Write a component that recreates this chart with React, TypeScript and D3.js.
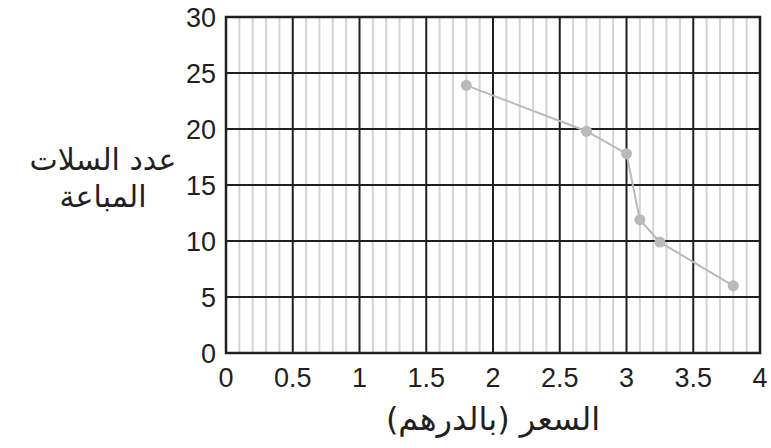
import React, { useRef, useEffect } from 'react';
import * as d3 from 'd3';

const prices = [1.8, 2.7, 3.0, 3.1, 3.25, 3.8];
const baskets = [23.9, 19.8, 17.8, 11.9, 9.9, 6];
const xTicks = [0, 0.5, 1, 1.5, 2, 2.5, 3, 3.5, 4];
const xTickLabels = ['0', '0.5', '1', '1.5', '2', '2.5', '3', '3.5', '4'];
const yTicks = [0, 5, 10, 15, 20, 25, 30];
const xTitle = 'السعر (بالدرهم)';
const yTitleLines = ['عدد السلات', 'المباعة'];

const width = 771;
const height = 448;
const margin = { top: 17, right: 11, bottom: 95, left: 226 };

const App: React.FC = () => {
  const svgRef = useRef<SVGSVGElement>(null);

  useEffect(() => {
    const svg = d3.select(svgRef.current);
    svg.selectAll('*').remove();

    const innerWidth = width - margin.left - margin.right;
    const innerHeight = height - margin.top - margin.bottom;
    const g = svg.append('g').attr('transform', `translate(${margin.left}, ${margin.top})`);

    const x = d3.scaleLinear().domain([0, 4]).range([0, innerWidth]);
    const y = d3.scaleLinear().domain([0, 30]).range([innerHeight, 0]);

    // minor vertical grid every 0.1
    const minor = d3.range(0, 41).map(i => i / 10).filter(v => Math.round(v * 10) % 5 !== 0);
    g.selectAll('.minor')
      .data(minor)
      .enter()
      .append('line')
      .attr('x1', d => x(d))
      .attr('x2', d => x(d))
      .attr('y1', 0)
      .attr('y2', innerHeight)
      .attr('stroke', '#d4d4d4')
      .attr('stroke-width', 2);

    // major grid
    g.selectAll('.major-x')
      .data(xTicks)
      .enter()
      .append('line')
      .attr('x1', d => x(d))
      .attr('x2', d => x(d))
      .attr('y1', 0)
      .attr('y2', innerHeight)
      .attr('stroke', '#231f20')
      .attr('stroke-width', 2);

    g.selectAll('.major-y')
      .data(yTicks)
      .enter()
      .append('line')
      .attr('x1', 0)
      .attr('x2', innerWidth)
      .attr('y1', d => y(d))
      .attr('y2', d => y(d))
      .attr('stroke', '#231f20')
      .attr('stroke-width', 2);

    g.append('rect')
      .attr('width', innerWidth)
      .attr('height', innerHeight)
      .attr('fill', 'none')
      .attr('stroke', '#231f20')
      .attr('stroke-width', 2.5);

    // tick labels
    g.selectAll('.xlab')
      .data(xTicks)
      .enter()
      .append('text')
      .attr('x', d => x(d))
      .attr('y', innerHeight + 34)
      .attr('text-anchor', 'middle')
      .attr('fill', '#231f20')
      .style('font-family', '"Liberation Sans", Arial, sans-serif')
      .style('font-size', '27px')
      .text((_, i) => xTickLabels[i]);

    g.selectAll('.ylab')
      .data(yTicks)
      .enter()
      .append('text')
      .attr('x', -10)
      .attr('y', d => y(d) + 10)
      .attr('text-anchor', 'end')
      .attr('fill', '#231f20')
      .style('font-family', '"Liberation Sans", Arial, sans-serif')
      .style('font-size', '27px')
      .text(d => String(d));

    // data line and points
    const pts = prices.map((p, i) => [p, baskets[i]] as [number, number]);
    const line = d3
      .line<[number, number]>()
      .x(d => x(d[0]))
      .y(d => y(d[1]));

    g.append('path')
      .datum(pts)
      .attr('d', line)
      .attr('fill', 'none')
      .attr('stroke', '#b8b9bb')
      .attr('stroke-width', 2);

    g.selectAll('.pt')
      .data(pts)
      .enter()
      .append('circle')
      .attr('cx', d => x(d[0]))
      .attr('cy', d => y(d[1]))
      .attr('r', 5.5)
      .attr('fill', '#b8b9bb');

    // axis titles
    svg
      .append('text')
      .attr('x', margin.left + innerWidth / 2)
      .attr('y', 430)
      .attr('text-anchor', 'middle')
      .attr('fill', '#231f20')
      .style('font-family', '"DejaVu Sans", sans-serif')
      .style('font-size', '32px')
      .attr('direction', 'rtl')
      .text(xTitle);

    svg
      .selectAll('.ytitle')
      .data(yTitleLines)
      .enter()
      .append('text')
      .attr('x', 103)
      .attr('y', (_, i) => 170 + i * 37)
      .attr('text-anchor', 'middle')
      .attr('fill', '#231f20')
      .style('font-family', '"DejaVu Sans", sans-serif')
      .style('font-size', '30px')
      .attr('direction', 'rtl')
      .text(d => d);
  }, []);

  return (
    <svg
      ref={svgRef}
      width={width}
      height={height}
      style={{ position: 'absolute', left: 0, top: 0, background: '#fff' }}
    />
  );
};

export default App;
